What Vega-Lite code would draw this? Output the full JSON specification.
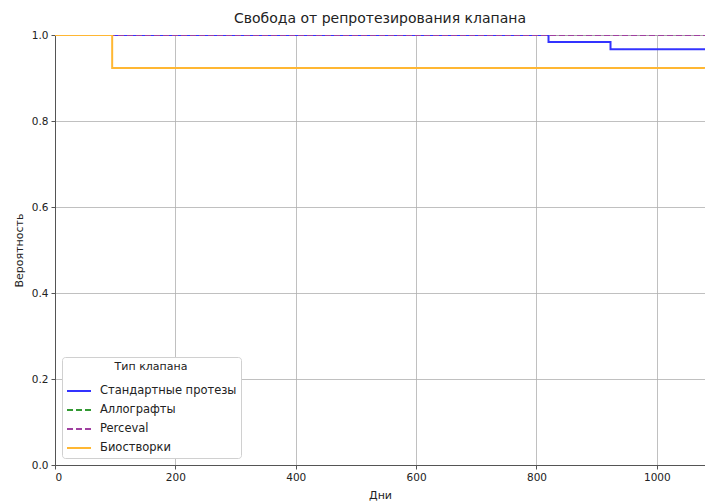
{
  "$schema": "https://vega.github.io/schema/vega-lite/v6.json",
  "width": 650,
  "height": 430,
  "autosize": {"type": "none"},
  "padding": {"left": 55, "top": 35, "right": 0, "bottom": 37},
  "background": "white",
  "title": {"text": "Свобода от репротезирования клапана", "font": "DejaVu Sans", "fontSize": 14, "fontWeight": "normal", "color": "#222", "offset": 4, "anchor": "middle"},
  "config": {
    "font": "DejaVu Sans",
    "view": {"stroke": "#777", "strokeWidth": 1}
  },
  "data": {"values": [
    {"day": 0, "p": 1.0, "type": "Стандартные протезы"},
    {"day": 820, "p": 0.984, "type": "Стандартные протезы"},
    {"day": 923, "p": 0.967, "type": "Стандартные протезы"},
    {"day": 1100, "p": 0.967, "type": "Стандартные протезы"},
    {"day": 0, "p": 1.0, "type": "Аллографты"},
    {"day": 1100, "p": 1.0, "type": "Аллографты"},
    {"day": 0, "p": 1.0, "type": "Perceval"},
    {"day": 1100, "p": 1.0, "type": "Perceval"},
    {"day": 0, "p": 1.0, "type": "Биостворки"},
    {"day": 95, "p": 0.923, "type": "Биостворки"},
    {"day": 1100, "p": 0.923, "type": "Биостворки"}
  ]},
  "encoding": {
    "x": {"field": "day", "type": "quantitative", "title": "Дни",
      "scale": {"domain": [0, 1080], "nice": false, "zero": false},
      "axis": {"values": [0, 200, 400, 600, 800, 1000], "format": "d", "grid": true, "gridColor": "#b0b0b0", "gridWidth": 0.8,
        "domainColor": "#555", "tickColor": "#555", "tickSize": 4, "labelFontSize": 10.5, "labelColor": "#222",
        "titleFontSize": 11, "titleFontWeight": "normal", "titleColor": "#222", "labelPadding": 3, "titlePadding": 7}},
    "y": {"field": "p", "type": "quantitative", "title": "Вероятность",
      "scale": {"domain": [0, 1], "nice": false},
      "axis": {"values": [0, 0.2, 0.4, 0.6, 0.8, 1.0], "format": ".1f", "grid": true, "gridColor": "#b0b0b0", "gridWidth": 0.8,
        "domainColor": "#555", "tickColor": "#555", "tickSize": 4, "labelFontSize": 10.5, "labelColor": "#222",
        "titleFontSize": 11, "titleFontWeight": "normal", "titleColor": "#222", "labelPadding": 3, "titlePadding": 7}},
    "color": {"field": "type", "type": "nominal",
      "scale": {"domain": ["Стандартные протезы", "Аллографты", "Perceval", "Биостворки"],
        "range": ["#3333ff", "#339933", "#a040a0", "#ffb733"]},
      "legend": {"title": "Тип клапана", "orient": "none", "legendX": 7, "legendY": 322,
        "symbolType": "stroke", "symbolSize": 576, "symbolStrokeWidth": 2,
        "titleFontSize": 11, "titleFontWeight": "normal", "titleColor": "#222", "titleAnchor": "middle", "titlePadding": 6,
        "labelFontSize": 11.5, "labelColor": "#222", "rowPadding": -4, "labelOffset": 8,
        "fillColor": "white", "strokeColor": "#d0d0d0", "cornerRadius": 3, "padding": 4}},
    "strokeDash": {"field": "type", "type": "nominal",
      "scale": {"domain": ["Стандартные протезы", "Аллографты", "Perceval", "Биостворки"],
        "range": [[1, 0], [6, 3], [6, 3], [1, 0]]}}
  },
  "layer": [
    {"transform": [{"filter": "datum.type === 'Стандартные протезы'"}], "mark": {"type": "line", "interpolate": "step-after", "strokeWidth": 2, "clip": true}},
    {"transform": [{"filter": "datum.type === 'Аллографты'"}], "mark": {"type": "line", "interpolate": "step-after", "strokeWidth": 2, "clip": true}},
    {"transform": [{"filter": "datum.type === 'Perceval'"}], "mark": {"type": "line", "interpolate": "step-after", "strokeWidth": 2, "clip": true}},
    {"transform": [{"filter": "datum.type === 'Биостворки'"}], "mark": {"type": "line", "interpolate": "step-after", "strokeWidth": 2, "clip": true}}
  ]
}
